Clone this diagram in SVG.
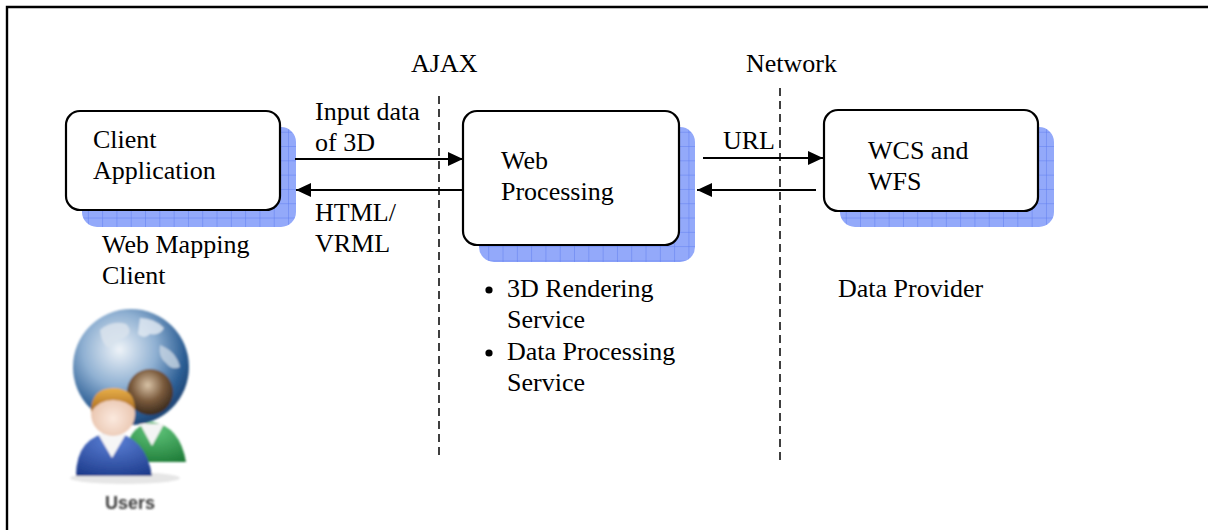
<svg xmlns="http://www.w3.org/2000/svg" width="1208" height="530" viewBox="0 0 1208 530">
  <style>
    .lbl { font-family: "Liberation Serif", "Times New Roman", serif; font-size: 26px; fill: #000; }
    .box { fill: #fff; stroke: #000; stroke-width: 2.2; }
    .shadow { fill: url(#grid); }
    .arrow { stroke: #000; stroke-width: 2.2; fill: none; marker-end: url(#head); }
    .divider { stroke: #000; stroke-width: 1.5; stroke-dasharray: 8 5; fill: none; }
  </style>
  <defs>
    <pattern id="grid" patternUnits="userSpaceOnUse" width="14.3" height="14.3" x="3" y="4">
      <rect width="14.3" height="14.3" fill="#93a9fa"/>
      <path d="M14.3 0 V14.3 M0 14.3 H14.3" stroke="#5f7df0" stroke-width="1"/>
    </pattern>
    <marker id="head" markerUnits="userSpaceOnUse" markerWidth="16" markerHeight="16" refX="15" refY="7" orient="auto">
      <path d="M0,0 L15,7 L0,14 z" fill="#000"/>
    </marker>
    <radialGradient id="globe" cx="0.4" cy="0.35" r="0.7">
      <stop offset="0" stop-color="#eef3f8"/>
      <stop offset="0.45" stop-color="#8fb0d2"/>
      <stop offset="0.8" stop-color="#2d5f95"/>
      <stop offset="1" stop-color="#1a3f6e"/>
    </radialGradient>
    <radialGradient id="headBack" cx="0.45" cy="0.35" r="0.7">
      <stop offset="0" stop-color="#d8c2a6"/>
      <stop offset="0.5" stop-color="#7a5a3c"/>
      <stop offset="1" stop-color="#2e2116"/>
    </radialGradient>
    <radialGradient id="headFront" cx="0.5" cy="0.6" r="0.6">
      <stop offset="0" stop-color="#fbe9de"/>
      <stop offset="1" stop-color="#e7c0a8"/>
    </radialGradient>
    <linearGradient id="hair" x1="0" y1="0" x2="0" y2="1">
      <stop offset="0" stop-color="#e9b04a"/>
      <stop offset="1" stop-color="#a86a1e"/>
    </linearGradient>
    <radialGradient id="bodyBlue" cx="0.5" cy="0.2" r="0.9">
      <stop offset="0" stop-color="#5b80d6"/>
      <stop offset="1" stop-color="#1c3a8a"/>
    </radialGradient>
    <radialGradient id="bodyGreen" cx="0.5" cy="0.2" r="0.9">
      <stop offset="0" stop-color="#5fc47a"/>
      <stop offset="1" stop-color="#1d7a36"/>
    </radialGradient>
    <filter id="soft" x="-20%" y="-20%" width="140%" height="140%">
      <feGaussianBlur stdDeviation="0.8"/>
    </filter>
  </defs>

  <rect width="1208" height="530" fill="#fff"/>

  <!-- outer frame (top and left edges) -->
  <path d="M7 530 V7 H1208" fill="none" stroke="#000" stroke-width="2.4"/>

  <!-- tier dividers -->
  <g id="dividers">
    <line class="divider" x1="439" y1="96" x2="439" y2="460"/>
    <line class="divider" x1="780" y1="88" x2="780" y2="460"/>
    <text class="lbl" x="411" y="72">AJAX</text>
    <text class="lbl" x="746" y="72">Network</text>
  </g>

  <g id="client-application">
    <rect class="shadow" x="82" y="127" width="214" height="100" rx="15"/>
    <rect class="box" x="66" y="111" width="214" height="99" rx="14"/>
    <text class="lbl" x="93" y="148">Client</text>
    <text class="lbl" x="93" y="179">Application</text>
  </g>

  <g id="web-processing">
    <rect class="shadow" x="479" y="127" width="216" height="135" rx="15"/>
    <rect class="box" x="463" y="111" width="216" height="134" rx="14"/>
    <text class="lbl" x="501" y="169">Web</text>
    <text class="lbl" x="501" y="200">Processing</text>
  </g>

  <g id="wcs-wfs">
    <rect class="shadow" x="840" y="127" width="214" height="100" rx="15"/>
    <rect class="box" x="824" y="110" width="214" height="101" rx="14"/>
    <text class="lbl" x="868" y="159">WCS and</text>
    <text class="lbl" x="868" y="190">WFS</text>
  </g>

  <g id="connectors">
    <line class="arrow" x1="295" y1="159" x2="463" y2="159"/>
    <line class="arrow" x1="463" y1="190" x2="296" y2="190"/>
    <line class="arrow" x1="703" y1="158" x2="823" y2="158"/>
    <line class="arrow" x1="816" y1="190" x2="697" y2="190"/>
    <text class="lbl" x="315" y="120">Input data</text>
    <text class="lbl" x="315" y="151">of 3D</text>
    <text class="lbl" x="315" y="221">HTML/</text>
    <text class="lbl" x="315" y="252">VRML</text>
    <text class="lbl" x="723" y="149">URL</text>
  </g>

  <g id="client-caption">
    <text class="lbl" x="102" y="253">Web Mapping</text>
    <text class="lbl" x="102" y="284">Client</text>
  </g>

  <g id="services">
    <circle cx="489" cy="290" r="3.6" fill="#000"/>
    <text class="lbl" x="507" y="297">3D Rendering</text>
    <text class="lbl" x="507" y="328">Service</text>
    <circle cx="489" cy="353" r="3.6" fill="#000"/>
    <text class="lbl" x="507" y="360">Data Processing</text>
    <text class="lbl" x="507" y="391">Service</text>
  </g>

  <g id="provider-caption">
    <text class="lbl" x="838" y="297">Data Provider</text>
  </g>

  <!-- users icon: globe behind two people -->
  <g id="users" filter="url(#soft)">
    <ellipse cx="125" cy="478" rx="55" ry="6" fill="#e6e6e6"/>
    <circle cx="131" cy="367" r="58" fill="url(#globe)"/>
    <path d="M100 330 q12 -10 26 -6 q8 8 -2 14 q-10 2 -14 10 q-8 -2 -10 -18 z" fill="#d9e3ec" opacity="0.85"/>
    <path d="M140 318 q14 0 24 10 q-4 8 -14 6 q-6 6 -12 0 z" fill="#e4ebf2" opacity="0.8"/>
    <path d="M160 345 q16 6 20 22 q-8 4 -14 -4 q-8 -6 -6 -18 z" fill="#c8d6e4" opacity="0.8"/>
    <!-- back person -->
    <path d="M124 462 q2 -36 28 -40 q28 4 34 40 z" fill="url(#bodyGreen)"/>
    <path d="M140 424 l12 22 l12 -22 z" fill="#f4f4f4"/>
    <circle cx="150" cy="392" r="23" fill="url(#headBack)"/>
    <!-- front person -->
    <path d="M76 476 q0 -40 36 -44 q34 4 40 44 z" fill="url(#bodyBlue)"/>
    <path d="M98 434 l14 24 l14 -24 z" fill="#f6f6f6"/>
    <circle cx="113" cy="414" r="22" fill="url(#headFront)"/>
    <path d="M91 412 q0 -24 22 -24 q22 0 22 22 q-8 -10 -22 -10 q-14 0 -22 12 z" fill="url(#hair)"/>
    <text x="105" y="509" font-family="'Liberation Sans', Arial, sans-serif" font-weight="bold" font-size="18" fill="#3a3a3a">Users</text>
  </g>
</svg>
